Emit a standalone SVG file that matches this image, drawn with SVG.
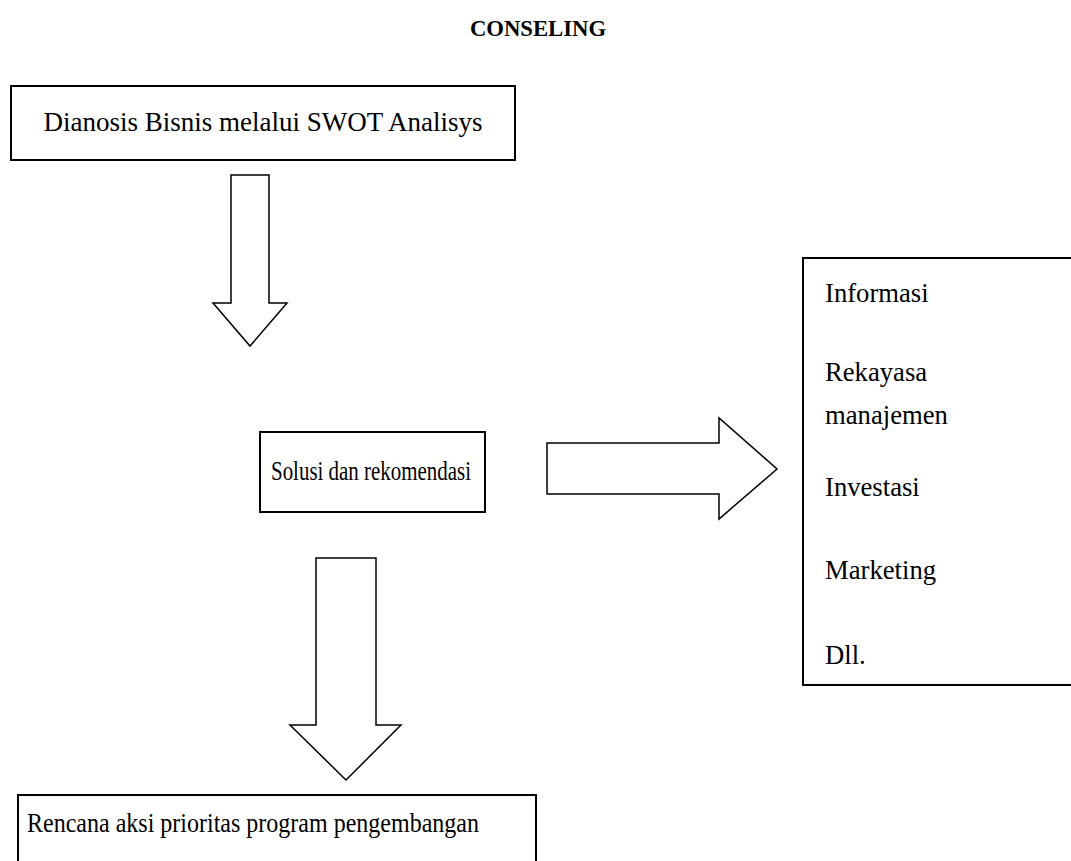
<svg xmlns="http://www.w3.org/2000/svg" width="1071" height="861" viewBox="0 0 1071 861">
<style>
.box{fill:#fff;stroke:#000;stroke-width:2}
.arr{fill:#fff;stroke:#000;stroke-width:1.5;stroke-linejoin:miter}
.t{font-family:"Liberation Serif","Times New Roman",serif;font-size:26.67px;fill:#000}
.h{font-family:"Liberation Serif","Times New Roman",serif;font-size:22.7px;font-weight:bold;fill:#000}
</style>
<rect width="1071" height="861" fill="#fff"/>
<text class="h" x="538" y="36" text-anchor="middle">CONSELING</text>
<g id="n1">
<rect class="box" x="11" y="86" width="504" height="74"/>
<text class="t" x="263" y="131" text-anchor="middle" style="font-size:27px">Dianosis Bisnis melalui SWOT Analisys</text>
</g>
<g id="n2">
<rect class="box" x="260" y="432" width="225" height="80"/>
<text class="t" x="271" y="480" textLength="200" lengthAdjust="spacingAndGlyphs">Solusi dan rekomendasi</text>
</g>
<g id="n3">
<rect class="box" x="803" y="258" width="280" height="427"/>
<text class="t" x="825" y="302">Informasi</text>
<text class="t" x="825" y="381">Rekayasa</text>
<text class="t" x="825" y="424">manajemen</text>
<text class="t" x="825" y="496">Investasi</text>
<text class="t" x="825" y="579">Marketing</text>
<text class="t" x="825" y="664">Dll.</text>
</g>
<g id="n4">
<rect class="box" x="18" y="795" width="518" height="80"/>
<text class="t" x="27" y="832" textLength="452" lengthAdjust="spacingAndGlyphs">Rencana aksi prioritas program pengembangan</text>
</g>
<g id="connectors">
<polygon class="arr" points="231,175 269,175 269,303 287,303 250,346 213,303 231,303"/>
<polygon class="arr" points="547,443 719,443 719,418 777,469 719,519 719,494 547,494"/>
<polygon class="arr" points="316,558 376,558 376,725 401,725 346,780 290,725 316,725"/>
</g>
</svg>
